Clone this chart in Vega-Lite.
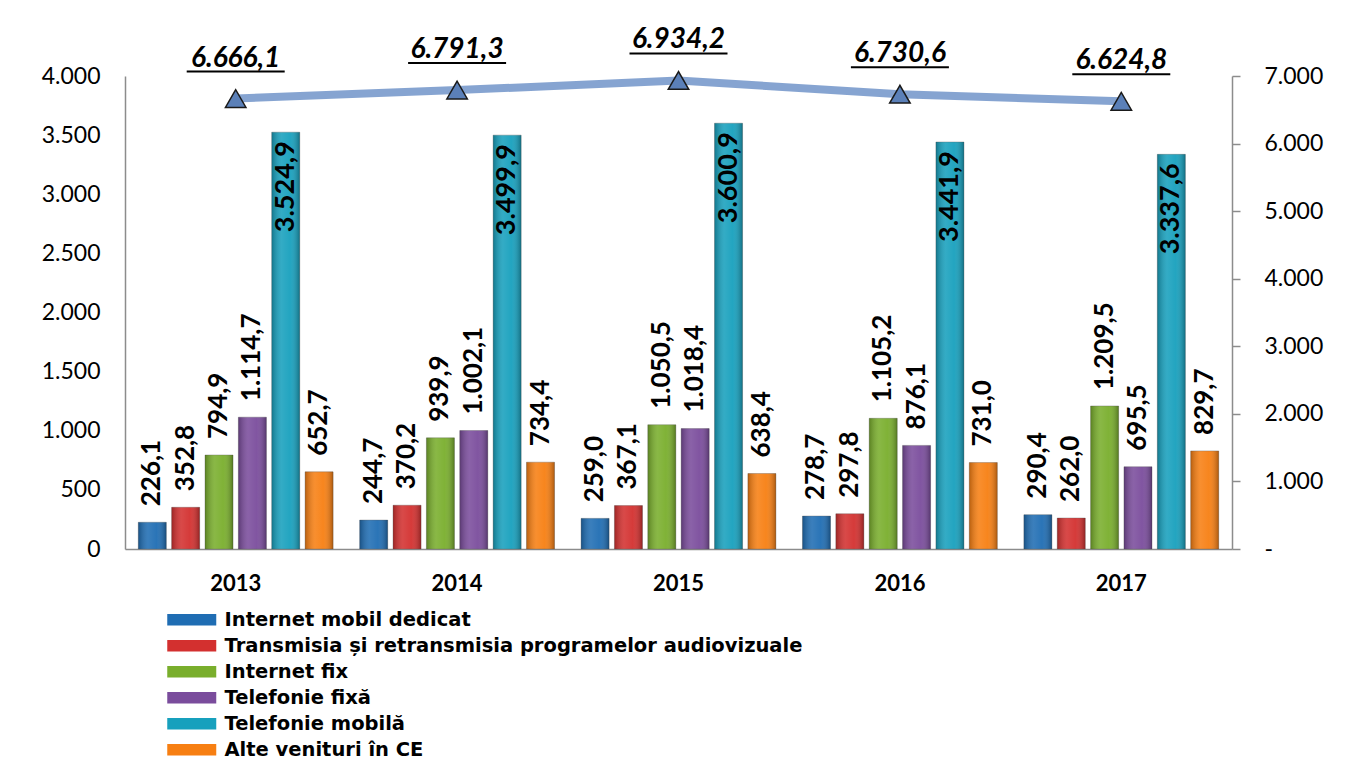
{
  "$schema": "https://vega.github.io/schema/vega-lite/v6.json",
  "width": 1107,
  "height": 473,
  "autosize": {"type": "none"},
  "padding": {"left": 125, "top": 76, "right": 130, "bottom": 218},
  "background": "white",
  "config": {
    "locale": {"number": {"decimal": ",", "thousands": ".", "grouping": [3], "currency": ["", ""]}},
    "view": {"stroke": null},
    "font": "Lato"
  },
  "datasets": {
    "bars": [
      {"year": "2013", "series": "Internet mobil dedicat", "value": 226.1},
      {"year": "2013", "series": "Transmisia și retransmisia programelor audiovizuale", "value": 352.8},
      {"year": "2013", "series": "Internet fix", "value": 794.9},
      {"year": "2013", "series": "Telefonie fixă", "value": 1114.7},
      {"year": "2013", "series": "Telefonie mobilă", "value": 3524.9},
      {"year": "2013", "series": "Alte venituri în CE", "value": 652.7},
      {"year": "2014", "series": "Internet mobil dedicat", "value": 244.7},
      {"year": "2014", "series": "Transmisia și retransmisia programelor audiovizuale", "value": 370.2},
      {"year": "2014", "series": "Internet fix", "value": 939.9},
      {"year": "2014", "series": "Telefonie fixă", "value": 1002.1},
      {"year": "2014", "series": "Telefonie mobilă", "value": 3499.9},
      {"year": "2014", "series": "Alte venituri în CE", "value": 734.4},
      {"year": "2015", "series": "Internet mobil dedicat", "value": 259.0},
      {"year": "2015", "series": "Transmisia și retransmisia programelor audiovizuale", "value": 367.1},
      {"year": "2015", "series": "Internet fix", "value": 1050.5},
      {"year": "2015", "series": "Telefonie fixă", "value": 1018.4},
      {"year": "2015", "series": "Telefonie mobilă", "value": 3600.9},
      {"year": "2015", "series": "Alte venituri în CE", "value": 638.4},
      {"year": "2016", "series": "Internet mobil dedicat", "value": 278.7},
      {"year": "2016", "series": "Transmisia și retransmisia programelor audiovizuale", "value": 297.8},
      {"year": "2016", "series": "Internet fix", "value": 1105.2},
      {"year": "2016", "series": "Telefonie fixă", "value": 876.1},
      {"year": "2016", "series": "Telefonie mobilă", "value": 3441.9},
      {"year": "2016", "series": "Alte venituri în CE", "value": 731.0},
      {"year": "2017", "series": "Internet mobil dedicat", "value": 290.4},
      {"year": "2017", "series": "Transmisia și retransmisia programelor audiovizuale", "value": 262.0},
      {"year": "2017", "series": "Internet fix", "value": 1209.5},
      {"year": "2017", "series": "Telefonie fixă", "value": 695.5},
      {"year": "2017", "series": "Telefonie mobilă", "value": 3337.6},
      {"year": "2017", "series": "Alte venituri în CE", "value": 829.7}
    ],
    "totals": [
      {"year": "2013", "total": 6666.1},
      {"year": "2014", "total": 6791.3},
      {"year": "2015", "total": 6934.2},
      {"year": "2016", "total": 6730.6},
      {"year": "2017", "total": 6624.8}
    ]
  },
  "encoding": {
    "x": {
      "field": "year", "type": "nominal",
      "scale": {"paddingInner": 0.12, "paddingOuter": 0.06},
      "axis": {
        "title": null, "labelAngle": 0, "ticks": false,
        "domainColor": "#8c8c8c", "domainWidth": 1.5,
        "labelFont": "Lato", "labelFontWeight": "bold", "labelFontSize": 22, "labelColor": "#000",
        "labelPadding": 24, "labelBaseline": "top"
      }
    }
  },
  "layer": [
    {
      "data": {"name": "bars"},
      "encoding": {
        "xOffset": {
          "field": "series", "type": "nominal",
          "sort": ["Internet mobil dedicat", "Transmisia și retransmisia programelor audiovizuale", "Internet fix", "Telefonie fixă", "Telefonie mobilă", "Alte venituri în CE"],
          "scale": {"paddingInner": 0.16, "paddingOuter": 0}
        },
        "y": {
          "field": "value", "type": "quantitative",
          "scale": {"domain": [0, 4000], "nice": false},
          "axis": {
            "title": null, "grid": false, "ticks": false, "values": [0, 500, 1000, 1500, 2000, 2500, 3000, 3500, 4000],
            "format": ",.0f", "domainColor": "#8c8c8c", "domainWidth": 1.5,
            "labelFont": "Lato", "labelFontSize": 23, "labelColor": "#000", "labelPadding": 25
          }
        }
      },
      "layer": [
        {
          "mark": {"type": "bar", "stroke": "#555", "strokeOpacity": 0.35, "strokeWidth": 1},
          "encoding": {
            "color": {
              "field": "series", "type": "nominal",
              "scale": {
                "domain": ["Internet mobil dedicat", "Transmisia și retransmisia programelor audiovizuale", "Internet fix", "Telefonie fixă", "Telefonie mobilă", "Alte venituri în CE"],
                "range": ["#1f6db3", "#d3302f", "#79ae2c", "#7a4c9c", "#17a0bd", "#f77f12"]
              },
              "legend": {
                "title": null, "orient": "none", "legendX": 57, "legendY": 534, "padding": 0,
                "symbolType": "M-4.9,-1.15L4.9,-1.15L4.9,1.15L-4.9,1.15Z", "symbolSize": 100,
                "symbolStrokeWidth": 0, "symbolOpacity": 1,
                "labelFont": "DejaVu Sans", "labelFontWeight": "bold", "labelFontSize": 19.5, "labelColor": "#000",
                "labelLimit": 800, "rowPadding": 5, "labelOffset": 23
              }
            }
          }
        },
        {
          "mark": {
            "type": "bar",
            "fill": {
              "gradient": "linear", "x1": 0, "x2": 1, "y1": 0, "y2": 0,
              "stops": [
                {"offset": 0, "color": "rgba(0,0,0,0.25)"},
                {"offset": 0.35, "color": "rgba(255,255,255,0.12)"},
                {"offset": 0.65, "color": "rgba(255,255,255,0.05)"},
                {"offset": 1, "color": "rgba(0,0,0,0.3)"}
              ]
            }
          }
        },
        {
          "transform": [{"filter": "datum.series !== 'Telefonie mobilă'"}],
          "mark": {"type": "text", "angle": 270, "align": "left", "baseline": "middle", "dx": 16, "font": "Lato", "fontWeight": "bold", "fontSize": 26, "color": "#000"},
          "encoding": {"text": {"field": "value", "type": "quantitative", "format": ",.1f"}}
        },
        {
          "transform": [{"filter": "datum.series === 'Telefonie mobilă'"}],
          "mark": {"type": "text", "angle": 270, "align": "right", "baseline": "middle", "dx": -9, "font": "Lato", "fontWeight": "bold", "fontSize": 27, "color": "#000"},
          "encoding": {"text": {"field": "value", "type": "quantitative", "format": ",.1f"}}
        }
      ]
    },
    {
      "data": {"name": "totals"},
      "encoding": {
        "y": {
          "field": "total", "type": "quantitative",
          "scale": {"domain": [0, 7000], "nice": false},
          "axis": {
            "orient": "right", "title": null, "grid": false, "values": [0, 1000, 2000, 3000, 4000, 5000, 6000, 7000],
            "format": ",.0f", "labelExpr": "datum.value === 0 ? '-' : datum.label",
            "domainColor": "#8c8c8c", "domainWidth": 1.5, "tickColor": "#8c8c8c", "tickWidth": 1.5, "tickSize": 8,
            "labelFont": "Lato", "labelFontSize": 23, "labelColor": "#000", "labelPadding": 24
          }
        }
      },
      "layer": [
        {"mark": {"type": "line", "stroke": "#7f9fcf", "strokeWidth": 8, "strokeOpacity": 0.95}},
        {"mark": {"type": "point", "shape": "triangle-up", "size": 420, "filled": true, "fill": "#5b80b8", "stroke": "#1a1a1a", "strokeWidth": 1.5, "opacity": 1}},
        {"mark": {"type": "text", "dy": -32, "baseline": "alphabetic", "align": "center", "font": "Lato", "fontWeight": "bold", "fontStyle": "italic", "fontSize": 28, "color": "#000"},
         "encoding": {"text": {"field": "total", "type": "quantitative", "format": ",.1f"}}},
        {"mark": {"type": "tick", "orient": "horizontal", "size": 98, "thickness": 2, "yOffset": -27, "color": "#000", "opacity": 1}}
      ]
    }
  ],
  "resolve": {"scale": {"y": "independent"}}
}
